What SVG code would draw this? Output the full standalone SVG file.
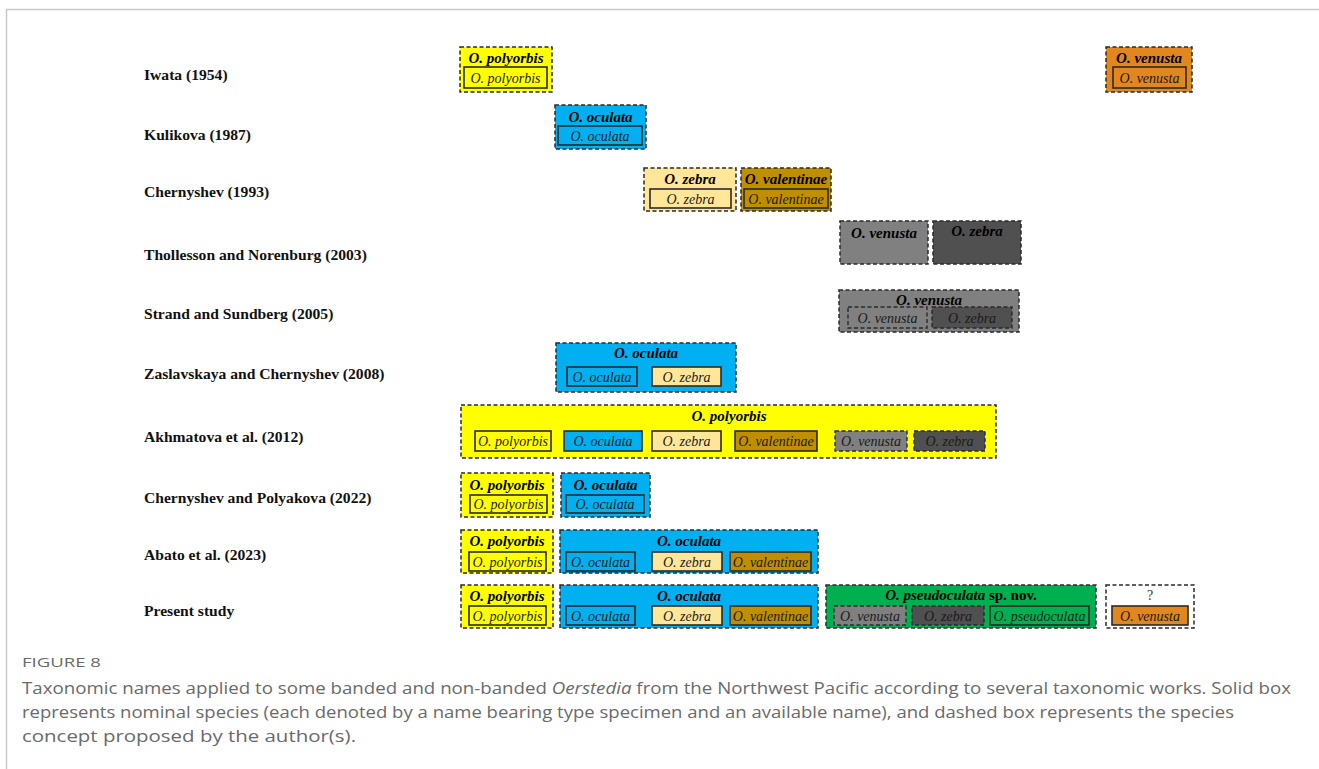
<svg xmlns="http://www.w3.org/2000/svg" width="1319" height="769" viewBox="0 0 1319 769">
<style>
.o{stroke:#2a2a2a;stroke-width:1.5;stroke-dasharray:4 2.5}
.i{stroke:#2a2a2a;stroke-width:1.6}
.id{stroke:#2a2a2a;stroke-width:1.4;stroke-dasharray:4 2.5}
.t{font-family:"Liberation Serif",serif;font-weight:bold;font-style:italic;font-size:15px;text-anchor:middle;fill:#000}
.s{font-family:"Liberation Serif",serif;font-style:italic;font-size:14px;text-anchor:middle;fill:#1a1a1a}
.lab{font-family:"Liberation Serif",serif;font-weight:bold;font-size:15.6px;fill:#111}
.cap{font-family:"Open Sans",sans-serif;font-size:16.5px;fill:#6a6a6a}
.fig{font-family:"Open Sans",sans-serif;font-size:13.5px;fill:#6a6a6a}
.Y{fill:#FFFF00}.B{fill:#00B0F0}.Z{fill:#FFE699}.V{fill:#BF8F00}.G{fill:#808080}.D{fill:#505050}.R{fill:#E2861E}.N{fill:#00B050}.W{fill:#FFFFFF}
</style>
<rect x="0" y="0" width="1319" height="769" fill="#fff"/>
<path d="M6.5 769 V9.5 H1319" fill="none" stroke="#c8c8c8" stroke-width="1.5"/>

<g id="labels">
<text class="lab" x="144" y="80">Iwata (1954)</text>
<text class="lab" x="144" y="140">Kulikova (1987)</text>
<text class="lab" x="144" y="197">Chernyshev (1993)</text>
<text class="lab" x="144" y="260">Thollesson and Norenburg (2003)</text>
<text class="lab" x="144" y="319">Strand and Sundberg (2005)</text>
<text class="lab" x="144" y="379">Zaslavskaya and Chernyshev (2008)</text>
<text class="lab" x="144" y="442">Akhmatova et al. (2012)</text>
<text class="lab" x="144" y="503">Chernyshev and Polyakova (2022)</text>
<text class="lab" x="144" y="560">Abato et al. (2023)</text>
<text class="lab" x="144" y="616">Present study</text>
</g>

<g id="connectors"></g>

<!-- Row 1 Iwata -->
<g id="iwata-polyorbis">
<rect class="o Y" x="460" y="47" width="92" height="45"/>
<text class="t" x="506" y="63">O. polyorbis</text>
<rect class="i Y" x="464" y="67" width="83" height="21"/>
<text class="s" x="505.5" y="83">O. polyorbis</text>
</g>
<g id="iwata-venusta">
<rect class="o R" x="1106" y="47" width="86" height="45"/>
<text class="t" x="1149" y="63">O. venusta</text>
<rect class="i R" x="1113" y="67" width="73" height="21"/>
<text class="s" x="1149.5" y="83">O. venusta</text>
</g>

<!-- Row 2 Kulikova -->
<g id="kulikova-oculata">
<rect class="o B" x="555" y="105" width="91" height="44"/>
<text class="t" x="600.5" y="122">O. oculata</text>
<rect class="i B" x="558" y="126" width="84" height="19"/>
<text class="s" x="600" y="141">O. oculata</text>
</g>

<!-- Row 3 Chernyshev 1993 -->
<g id="chernyshev1993-zebra">
<rect class="o Z" x="644" y="168" width="92" height="43"/>
<text class="t" x="690" y="184">O. zebra</text>
<rect class="i Z" x="650" y="189" width="81" height="19"/>
<text class="s" x="690.5" y="204">O. zebra</text>
</g>
<g id="chernyshev1993-valentinae">
<rect class="o V" x="741" y="168" width="90" height="43"/>
<text class="t" x="786" y="184">O. valentinae</text>
<rect class="i V" x="744" y="189" width="84" height="19"/>
<text class="s" x="786" y="204">O. valentinae</text>
</g>

<!-- Row 4 Thollesson -->
<g id="thollesson-venusta">
<rect class="o G" x="840" y="221" width="88" height="43"/>
<text class="t" x="884" y="238">O. venusta</text>
</g>
<g id="thollesson-zebra">
<rect class="o D" x="933" y="221" width="88" height="43"/>
<text class="t" x="977" y="236">O. zebra</text>
</g>

<!-- Row 5 Strand -->
<g id="strand-venusta">
<rect class="o G" x="839" y="290" width="180" height="42"/>
<text class="t" x="929" y="305">O. venusta</text>
<rect class="id G" x="848" y="307" width="79" height="21"/>
<text class="s" x="887.5" y="323">O. venusta</text>
<rect class="id D" x="932" y="307" width="80" height="21"/>
<text class="s" x="972" y="323">O. zebra</text>
</g>

<!-- Row 6 Zaslavskaya -->
<g id="zaslavskaya-oculata">
<rect class="o B" x="556" y="343" width="180" height="49"/>
<text class="t" x="646" y="358">O. oculata</text>
<rect class="i B" x="567" y="367" width="70" height="19"/>
<text class="s" x="602" y="382">O. oculata</text>
<rect class="i Z" x="652" y="367" width="69" height="19"/>
<text class="s" x="686.5" y="382">O. zebra</text>
</g>

<!-- Row 7 Akhmatova -->
<g id="akhmatova-polyorbis">
<rect class="o Y" x="461" y="405" width="535" height="53"/>
<text class="t" x="729" y="421">O. polyorbis</text>
<rect class="i Y" x="475" y="431" width="76" height="20"/>
<text class="s" x="513" y="446">O. polyorbis</text>
<rect class="i B" x="564" y="431" width="78" height="20"/>
<text class="s" x="603" y="446">O. oculata</text>
<rect class="i Z" x="652" y="431" width="69" height="20"/>
<text class="s" x="686.5" y="446">O. zebra</text>
<rect class="i V" x="735" y="431" width="82" height="20"/>
<text class="s" x="776" y="446">O. valentinae</text>
<rect class="id G" x="835" y="431" width="72" height="20"/>
<text class="s" x="871" y="446">O. venusta</text>
<rect class="id D" x="914" y="431" width="71" height="20"/>
<text class="s" x="949.5" y="446">O. zebra</text>
</g>

<!-- Row 8 Chernyshev & Polyakova -->
<g id="cp2022-polyorbis">
<rect class="o Y" x="461" y="473" width="92" height="44"/>
<text class="t" x="507" y="490">O. polyorbis</text>
<rect class="i Y" x="470" y="495" width="77" height="18"/>
<text class="s" x="508.5" y="509">O. polyorbis</text>
</g>
<g id="cp2022-oculata">
<rect class="o B" x="561" y="473" width="89" height="44"/>
<text class="t" x="605.5" y="490">O. oculata</text>
<rect class="i B" x="566" y="495" width="78" height="18"/>
<text class="s" x="605" y="509">O. oculata</text>
</g>

<!-- Row 9 Abato -->
<g id="abato-polyorbis">
<rect class="o Y" x="461" y="530" width="92" height="43"/>
<text class="t" x="507" y="546">O. polyorbis</text>
<rect class="i Y" x="469" y="552" width="77" height="19"/>
<text class="s" x="507.5" y="567">O. polyorbis</text>
</g>
<g id="abato-oculata">
<rect class="o B" x="560" y="530" width="258" height="43"/>
<text class="t" x="689" y="546">O. oculata</text>
<rect class="i B" x="566" y="552" width="69" height="19"/>
<text class="s" x="600.5" y="567">O. oculata</text>
<rect class="i Z" x="652" y="552" width="70" height="19"/>
<text class="s" x="687" y="567">O. zebra</text>
<rect class="i V" x="730" y="552" width="81" height="19"/>
<text class="s" x="770.5" y="567">O. valentinae</text>
</g>

<!-- Row 10 Present study -->
<g id="present-polyorbis">
<rect class="o Y" x="461" y="585" width="92" height="43"/>
<text class="t" x="507" y="601">O. polyorbis</text>
<rect class="i Y" x="469" y="606" width="77" height="19"/>
<text class="s" x="507.5" y="621">O. polyorbis</text>
</g>
<g id="present-oculata">
<rect class="o B" x="560" y="585" width="258" height="43"/>
<text class="t" x="689" y="601">O. oculata</text>
<rect class="i B" x="566" y="606" width="69" height="19"/>
<text class="s" x="600.5" y="621">O. oculata</text>
<rect class="i Z" x="652" y="606" width="70" height="19"/>
<text class="s" x="687" y="621">O. zebra</text>
<rect class="i V" x="730" y="606" width="81" height="19"/>
<text class="s" x="770.5" y="621">O. valentinae</text>
</g>
<g id="present-pseudoculata">
<rect class="o N" x="826" y="585" width="270" height="43"/>
<text class="t" x="961" y="600">O. pseudoculata<tspan font-style="normal"> sp. nov.</tspan></text>
<rect class="id G" x="834" y="606" width="72" height="19"/>
<text class="s" x="870" y="621">O. venusta</text>
<rect class="id D" x="912" y="606" width="72" height="19"/>
<text class="s" x="948" y="621">O. zebra</text>
<rect class="i N" x="990" y="606" width="99" height="19"/>
<text class="s" x="1039.5" y="621">O. pseudoculata</text>
</g>
<g id="present-unknown">
<rect class="o W" x="1106" y="585" width="88" height="43"/>
<text x="1150" y="600" font-family="Liberation Serif,serif" font-size="14" text-anchor="middle" fill="#333">?</text>
<rect class="i R" x="1112" y="606" width="76" height="19"/>
<text class="s" x="1150" y="621">O. venusta</text>
</g>

<g id="caption">
<text class="fig" x="22" y="667" textLength="79" lengthAdjust="spacingAndGlyphs">FIGURE 8</text>
<text class="cap" x="22" y="694" textLength="1269" lengthAdjust="spacingAndGlyphs">Taxonomic names applied to some banded and non-banded <tspan font-style="italic">Oerstedia</tspan> from the Northwest Pacific according to several taxonomic works. Solid box</text>
<text class="cap" x="22" y="718" textLength="1212" lengthAdjust="spacingAndGlyphs">represents nominal species (each denoted by a name bearing type specimen and an available name), and dashed box represents the species</text>
<text class="cap" x="22" y="742" textLength="334" lengthAdjust="spacingAndGlyphs">concept proposed by the author(s).</text>
</g>
</svg>
